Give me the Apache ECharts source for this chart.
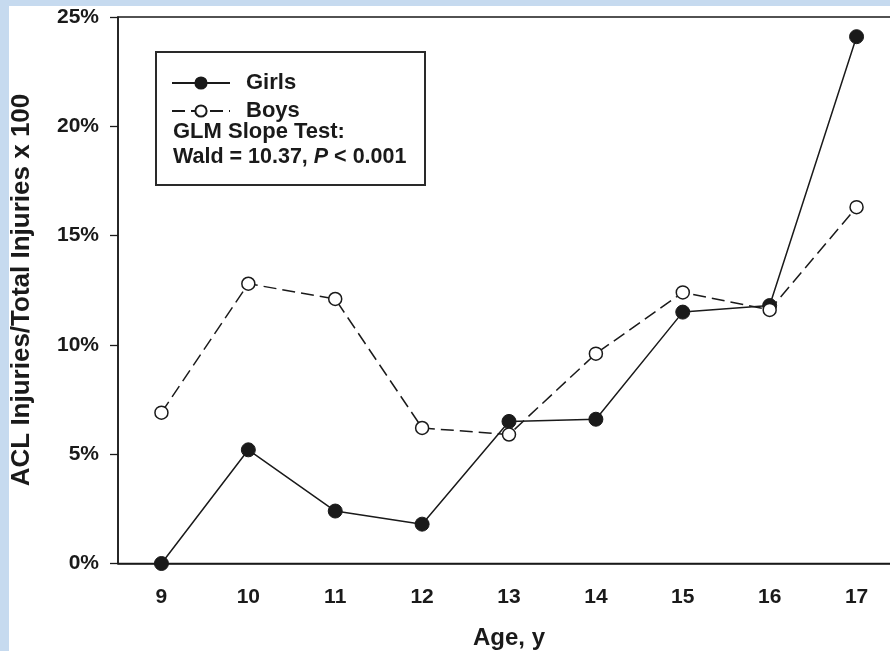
<!DOCTYPE html>
<html>
<head>
<meta charset="utf-8">
<script src="https://cdn.jsdelivr.net/npm/echarts@6/dist/echarts.min.js"></script>
<style>
html,body{margin:0;padding:0;background:#fff;overflow:hidden;width:890px;height:651px;}
#chart{width:900px;height:651px;}
</style>
</head>
<body>
<div id="chart"></div>
<script>
const ages = ['9','10','11','12','13','14','15','16','17'];
const girls = [0, 5.2, 2.4, 1.8, 6.5, 6.6, 11.5, 11.8, 24.1];
const boys = [6.9, 12.8, 12.1, 6.2, 5.9, 9.6, 12.4, 11.6, 16.3];
const yTicks = [0, 5, 10, 15, 20, 25];

const FONT = '"Liberation Sans", Arial, sans-serif';
const ink = '#1a1a1a';

const chart = echarts.init(document.getElementById('chart'));
chart.setOption({
  backgroundColor: '#ffffff',
  animation: false,
  grid: {
    left: 118, top: 17, right: 0, bottom: 87.5,
    show: true, borderColor: ink, borderWidth: 1.5, backgroundColor: 'transparent'
  },
  xAxis: {
    type: 'category',
    data: ages,
    boundaryGap: true,
    axisLine: { lineStyle: { color: ink, width: 1.5 } },
    axisTick: { alignWithLabel: true, length: 8, lineStyle: { color: ink, width: 1.3 } },
    axisLabel: { margin: 23, color: ink, fontSize: 21, fontWeight: 'bold', fontFamily: FONT },
    splitLine: { show: false }
  },
  yAxis: {
    type: 'value',
    min: yTicks[0], max: yTicks[yTicks.length - 1], interval: 5,
    axisLine: { show: true, lineStyle: { color: ink, width: 1.5 } },
    axisTick: { show: true, length: 8, lineStyle: { color: ink, width: 1.3 } },
    axisLabel: { margin: 19, color: ink, fontSize: 21, fontWeight: 'bold', fontFamily: FONT,
      formatter: v => v + '%' },
    splitLine: { show: false }
  },
  legend: {
    left: 166, top: 67, orient: 'vertical', z: 20,
    itemWidth: 58, itemHeight: 14, itemGap: 6,
    textStyle: { color: ink, fontSize: 22, fontWeight: 'bold', fontFamily: FONT, padding: [0,0,0,11] },
    data: ['Girls', 'Boys']
  },
  series: [
    {
      name: 'Girls', type: 'line', data: girls,
      symbol: 'circle', symbolSize: 14,
      lineStyle: { color: ink, width: 1.5 },
      itemStyle: { color: ink, borderColor: ink, borderWidth: 1 },
      z: 2
    },
    {
      name: 'Boys', type: 'line', data: boys,
      symbol: 'circle', symbolSize: 13,
      lineStyle: { color: ink, width: 1.5, type: [13, 6] },
      itemStyle: { color: '#ffffff', borderColor: ink, borderWidth: 1.5 },
      z: 3
    }
  ],
  graphic: [
    { type: 'rect', shape: { x: 0, y: 0, width: 9, height: 651 }, style: { fill: '#c6daef' }, z: 100 },
    { type: 'rect', shape: { x: 0, y: 0, width: 900, height: 6 }, style: { fill: '#c6daef' }, z: 100 },
    { type: 'rect', shape: { x: 156, y: 52, width: 269, height: 133 },
      style: { fill: 'none', stroke: '#2a2a2a', lineWidth: 2 }, z: 1 },
    { type: 'text', left: 173, top: 121, z: 10,
      style: { text: 'GLM Slope Test:', fill: ink, font: 'bold 22px ' + FONT } },
    { type: 'text', left: 173, top: 146, z: 10,
      style: { text: '{b|Wald = 10.37, }{i|P}{b| < 0.001}', fill: ink,
        rich: {
          b: { fontSize: 21.5, fontWeight: 'bold', fontFamily: FONT, fill: ink },
          i: { fontSize: 21.5, fontWeight: 'bold', fontStyle: 'italic', fontFamily: FONT, fill: ink }
        } } },
    { type: 'text', x: 22, y: 290, rotation: Math.PI / 2, z: 10,
      style: { text: 'ACL Injuries/Total Injuries x 100', fill: ink, font: 'bold 26px ' + FONT,
        textAlign: 'center', textVerticalAlign: 'middle' } },
    { type: 'text', x: 509, y: 638, z: 10,
      style: { text: 'Age, y', fill: ink, font: 'bold 24px ' + FONT,
        textAlign: 'center', textVerticalAlign: 'middle' } }
  ]
});
</script>
</body>
</html>
